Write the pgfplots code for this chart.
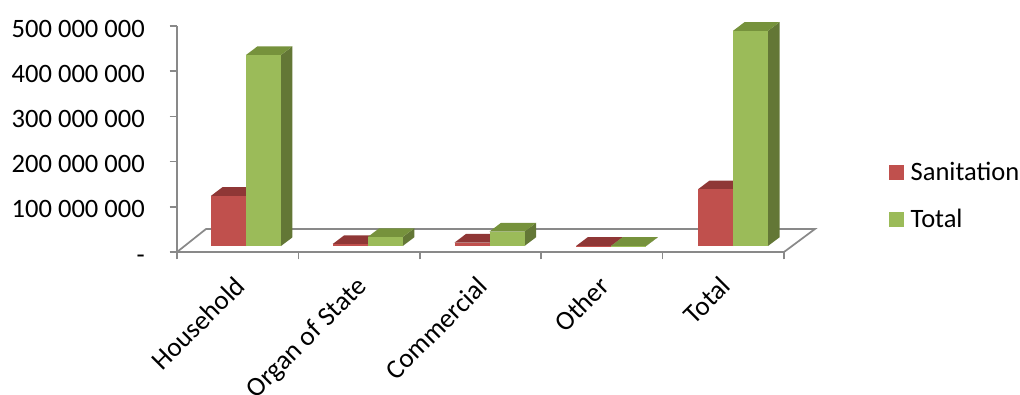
\documentclass[border=0pt]{standalone}
\usepackage{pgfplots}
\usepackage{pgfplotstable}
\usepackage{fontspec}
\setmainfont{Carlito}
\pgfplotsset{compat=1.18}

\definecolor{redfront}{HTML}{C0504D}
\definecolor{redtop}{HTML}{8F3736}
\definecolor{redside}{HTML}{7A2F2D}
\definecolor{greenfront}{HTML}{9BBB59}
\definecolor{greentop}{HTML}{76923C}
\definecolor{greenside}{HTML}{637736}
\definecolor{axisgray}{HTML}{898989}

% Amounts per customer group, in millions
\pgfplotstableread{
row sanitation total
0   111.0      422.6
1   4.5        20.0
2   7.5        32.0
3   0.3        0.5
4   125.5      476.0
}\amounts

% One bar drawn as three faces: left edge, right edge (both in px from the axis
% origin), height in millions, then the front, top and side colours
\newcommand{\barbox}[6]{%
  \pgfmathsetmacro{\xa}{#1/121.4}%
  \pgfmathsetmacro{\xb}{#2/121.4}%
  \pgfmathsetmacro{\xc}{(#2+11.5)/121.4}%
  \pgfmathsetmacro{\xd}{(#1+11.5)/121.4}%
  \pgfmathsetmacro{\yb}{13.27}%
  \pgfmathsetmacro{\yt}{13.27+#3}%
  \pgfmathsetmacro{\ybb}{13.27+19.25}%
  \pgfmathsetmacro{\ytt}{13.27+#3+19.25}%
  \edef\faces{%
    \noexpand\addplot[forget plot,draw=none,fill=#6] coordinates {(\xb,\yb e6)(\xb,\yt e6)(\xc,\ytt e6)(\xc,\ybb e6)};
    \noexpand\addplot[forget plot,draw=none,fill=#5] coordinates {(\xa,\yt e6)(\xb,\yt e6)(\xc,\ytt e6)(\xd,\ytt e6)};
    \noexpand\addplot[forget plot,draw=none,fill=#4] coordinates {(\xa,\yb e6)(\xa,\yt e6)(\xb,\yt e6)(\xb,\yb e6)};
  }%
  \faces
}

% Both bars of one category, read from the table
\newcommand{\categorybars}[1]{%
  \pgfmathsetmacro{\xstart}{34+#1*121.75}%
  \pgfmathsetmacro{\xmid}{\xstart+35}%
  \pgfmathsetmacro{\xend}{\xstart+70}%
  \pgfplotstablegetelem{#1}{sanitation}\of\amounts
  \barbox{\xstart}{\xmid}{\pgfplotsretval}{redfront}{redtop}{redside}%
  \pgfplotstablegetelem{#1}{total}\of\amounts
  \barbox{\xmid}{\xend}{\pgfplotsretval}{greenfront}{greentop}{greenside}%
}

\begin{document}
\begin{tikzpicture}[x=1pt,y=1pt]
  % page frame: 1020 x 394 px at 0.75 pt per px, origin at the axis corner
  \useasboundingbox (-132.75,-106.5) rectangle (632.25,189);
  \begin{axis}[
    at={(0,0)}, anchor=origin,
    scale only axis,
    width=455.25pt, height=169.5pt,
    xmin=0, xmax=5, ymin=0, ymax=500000000,
    clip=false,
    axis x line=bottom, axis y line=left,
    axis line style={-, axisgray, line width=1.4pt},
    every tick/.style={axisgray, line width=1.2pt},
    tick align=outside,
    major tick length=5.5pt,
    scaled y ticks=false,
    xtick={0,1,2,3,4,5},
    xticklabels={},
    extra x ticks={0.5,1.5,2.5,3.5,4.5},
    extra x tick labels={Household,Organ of State,Commercial,Other,Total},
    extra x tick style={major tick length=0pt, every tick/.style={draw=none},
      xticklabel style={rotate=45, anchor=north east, inner sep=0pt, xshift=-14.3pt, yshift=-9.6pt,
        font=\fontsize{20.3}{24}\selectfont}},
    ytick={0,100000000,200000000,300000000,400000000,500000000},
    yticklabels={-,100 000 000,200 000 000,300 000 000,400 000 000,500 000 000},
    yticklabel style={anchor=east, inner sep=0pt, xshift=-18.5pt, yshift=-2pt,
      text height=12.5pt, text depth=0pt,
      font=\fontsize{19.9}{24}\selectfont},
    legend style={draw=none, fill=none, at={(rel axis cs:1.172,0.248)}, anchor=west,
      row sep=20pt, inner sep=0pt, font=\fontsize{19.9}{24}\selectfont,
      nodes={inner sep=0pt, anchor=west},
      /tikz/column 1/.style={column sep=5.25pt}},
    legend cell align=left,
    legend image code/.code={\fill[#1] (0pt,-5.6pt) rectangle (11.25pt,5.6pt);},
  ]
    % floor outline behind the bars
    \addplot[forget plot, axisgray, line width=1.3pt] coordinates
      {(0,0) (0.239,50900000) (5.255,50900000) (5,0)};
    \pgfplotsinvokeforeach{0,1,2,3,4}{\categorybars{#1}}
    \addlegendimage{draw=none, fill=redfront}
    \addlegendentry{Sanitation}
    \addlegendimage{draw=none, fill=greenfront}
    \addlegendentry{Total}
  \end{axis}
\end{tikzpicture}
\end{document}
